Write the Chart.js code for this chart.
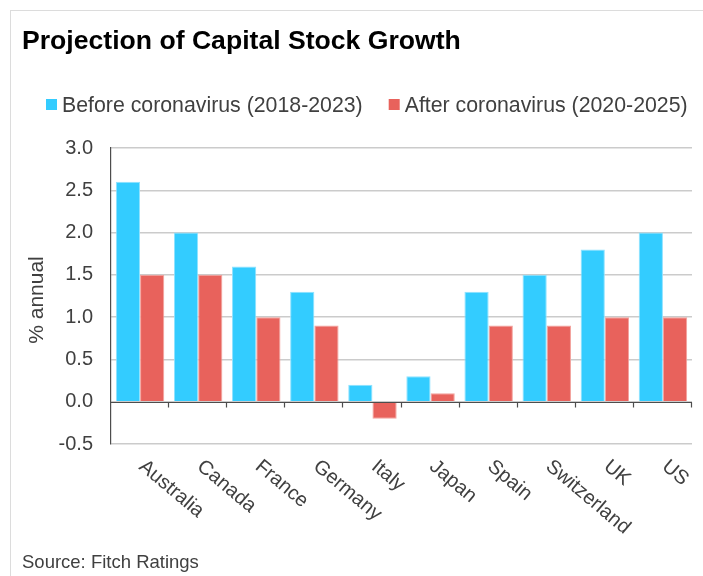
<!DOCTYPE html>
<html>
<head>
<meta charset="utf-8">
<script src="https://cdn.jsdelivr.net/npm/chart.js@4/dist/chart.umd.min.js"></script>
<style>
  html, body { margin: 0; padding: 0; background: #fff; }
  #frame { position: absolute; left: 10px; top: 10px; width: 700px; height: 570px;
           border-left: 1px solid #dcdcdc; border-top: 1px solid #dcdcdc; }
  #wrap { position: absolute; left: 0; top: 0; width: 703px; height: 576px; }
</style>
</head>
<body>
<div id="frame"></div>
<div id="wrap"><canvas id="chart" width="703" height="576"></canvas></div>
<script>
// Capital stock growth projections, % annual
const countries = ['Australia', 'Canada', 'France', 'Germany', 'Italy', 'Japan', 'Spain', 'Switzerland', 'UK', 'US'];
const beforeCovid = [2.6, 2.0, 1.6, 1.3, 0.2, 0.3, 1.3, 1.5, 1.8, 2.0];
const afterCovid = [1.5, 1.5, 1.0, 0.9, -0.2, 0.1, 0.9, 0.9, 1.0, 1.0];
const seriesNames = ['Before coronavirus (2018-2023)', 'After coronavirus (2020-2025)'];
const yTicks = [-0.5, 0.0, 0.5, 1.0, 1.5, 2.0, 2.5, 3.0];
const chartTitle = 'Projection of Capital Stock Growth';
const yTitle = '% annual';
const sourceNote = 'Source: Fitch Ratings';

const FONT = '"Liberation Sans", Arial, sans-serif';
const TEXT = '#404040';
const AXIS = '#4d4d4d';

// Title, legend, slanted category labels, zero line with ticks, source note
const decor = {
  id: 'decor',
  afterDatasetsDraw(chart) {
    const { ctx, chartArea } = chart;
    const x = chart.scales.x, y = chart.scales.y;
    const y0 = Math.round(y.getPixelForValue(0)) + 0.5;
    ctx.save();
    ctx.strokeStyle = AXIS;
    ctx.lineWidth = 1.2;
    ctx.beginPath();
    ctx.moveTo(chartArea.left, y0);
    ctx.lineTo(chartArea.right, y0);
    for (let i = 1; i <= countries.length; i++) {
      const bx = i < countries.length
        ? (x.getPixelForValue(i - 1) + x.getPixelForValue(i)) / 2
        : chartArea.right;
      const px = Math.round(bx) - 0.5;
      ctx.moveTo(px, y0);
      ctx.lineTo(px, y0 + 5);
    }
    ctx.stroke();
    ctx.restore();
  },
  afterDraw(chart) {
    const { ctx, chartArea } = chart;
    const x = chart.scales.x;
    ctx.save();
    // chart title
    ctx.fillStyle = '#000';
    ctx.font = 'bold 26.6px ' + FONT;
    ctx.textAlign = 'left';
    ctx.textBaseline = 'alphabetic';
    ctx.fillText(chartTitle, 22, 49);

    // legend
    ctx.font = '21.3px ' + FONT;
    let lx = 46;
    chart.data.datasets.forEach((ds) => {
      ctx.fillStyle = ds.backgroundColor;
      ctx.fillRect(lx, 99, 11, 11);
      ctx.fillStyle = TEXT;
      ctx.fillText(ds.label, lx + 16, 112);
      lx += 16 + ctx.measureText(ds.label).width + 26;
    });

    // y axis title
    ctx.save();
    ctx.translate(37.5, 300);
    ctx.rotate(-Math.PI / 2);
    ctx.textAlign = 'center';
    ctx.textBaseline = 'middle';
    ctx.font = '21px ' + FONT;
    ctx.fillStyle = TEXT;
    ctx.fillText(yTitle, 0, 0);
    ctx.restore();

    // category labels, slanted
    ctx.font = '20px ' + FONT;
    ctx.fillStyle = TEXT;
    countries.forEach((name, i) => {
      ctx.save();
      ctx.translate(x.getPixelForValue(i) + 1.5, chartArea.bottom + 20);
      ctx.rotate(40 * Math.PI / 180);
      ctx.textAlign = 'left';
      ctx.textBaseline = 'middle';
      ctx.fillText(name, 0, 0);
      ctx.restore();
    });

    // source
    ctx.font = '18.5px ' + FONT;
    ctx.fillStyle = TEXT;
    ctx.textBaseline = 'alphabetic';
    ctx.fillText(sourceNote, 22, 568);
    ctx.restore();
  }
};

new Chart(document.getElementById('chart'), {
  type: 'bar',
  data: {
    labels: countries,
    datasets: [
      { label: seriesNames[0], data: beforeCovid, backgroundColor: '#33CCFF', borderColor: '#8EE2FF',
        borderWidth: 1, categoryPercentage: 0.834, barPercentage: 1 },
      { label: seriesNames[1], data: afterCovid, backgroundColor: '#E8625C', borderColor: '#F3A29D',
        borderWidth: 1, categoryPercentage: 0.834, barPercentage: 1 }
    ]
  },
  options: {
    responsive: false,
    animation: false,
    devicePixelRatio: 1,
    layout: { padding: { top: 148, bottom: 132, left: 0, right: 11 } },
    plugins: { legend: { display: false }, title: { display: false }, tooltip: { enabled: false } },
    scales: {
      x: {
        ticks: { display: false },
        grid: { display: false },
        border: { display: false },
        afterFit(s) { s.height = 0; }
      },
      y: {
        min: -0.5,
        max: 3.0,
        afterBuildTicks(s) { s.ticks = yTicks.map(v => ({ value: v })); },
        ticks: { padding: 18, color: TEXT, font: { family: FONT, size: 20 }, callback: v => Number(v).toFixed(1) },
        grid: { drawTicks: false, color: '#cbcbcb', lineWidth: 1.5 },
        border: { display: true, color: AXIS, width: 1.2 },
        afterFit(s) { s.width = 111; }
      }
    }
  },
  plugins: [decor]
});
</script>
</body>
</html>
